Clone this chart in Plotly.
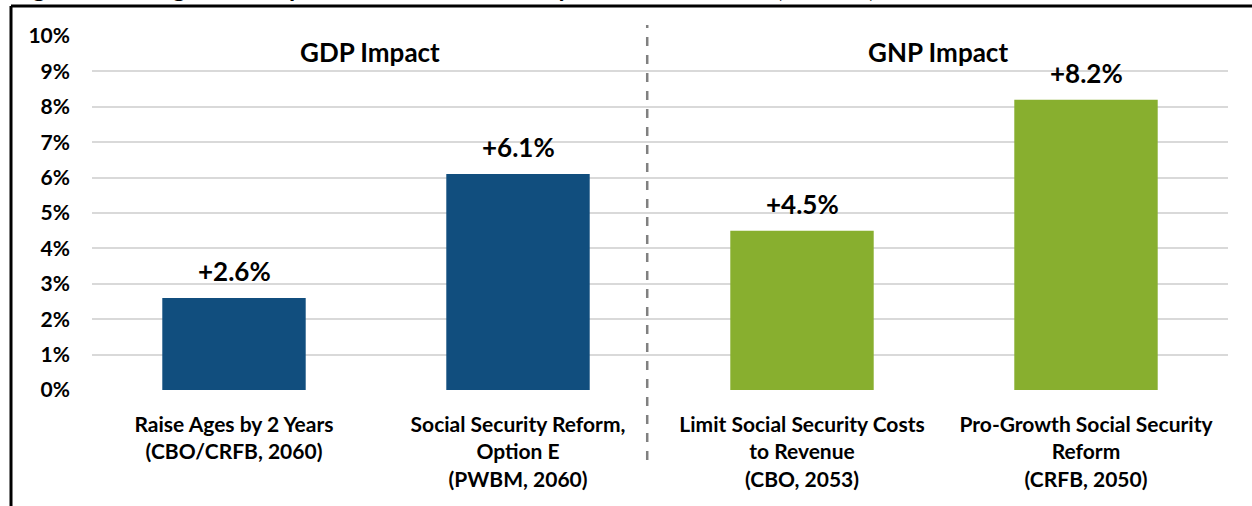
import plotly.graph_objects as go

categories = [
    "Raise Ages by 2 Years<br>(CBO/CRFB, 2060)",
    "Social Security Reform,<br>Option E<br>(PWBM, 2060)",
    "Limit Social Security Costs<br>to Revenue<br>(CBO, 2053)",
    "Pro-Growth Social Security<br>Reform<br>(CRFB, 2050)",
]
values = [2.6, 6.1, 4.5, 8.2]
value_labels = ["+2.6%", "+6.1%", "+4.5%", "+8.2%"]
bar_colors = ["#114E7E", "#114E7E", "#88AF2F", "#88AF2F"]
tick_vals = list(range(0, 11))
tick_text = [f"{v}%" for v in tick_vals]
group_labels = ["GDP Impact", "GNP Impact"]
title_text = "Figure 1: Changes to Output Under Social Security Reform Scenarios (Percent)"

FONT = "Lato, Carlito, Calibri, sans-serif"

x_idx = list(range(len(categories)))

fig = go.Figure()
fig.add_trace(go.Bar(
    x=x_idx, y=values, marker=dict(color=bar_colors, line=dict(width=0)),
    width=0.505, hoverinfo="skip",
))

for xi, v, lab in zip(x_idx, values, value_labels):
    fig.add_annotation(x=xi, y=v, text=f"<b>{lab}</b>", showarrow=False,
                       yanchor="bottom", yshift=9,
                       font=dict(family=FONT, size=26, color="#000000"))

# group headers
fig.add_annotation(x=0.5, y=9.6, text=f"<b>{group_labels[0]}</b>", showarrow=False,
                   xanchor="center", yanchor="middle", xshift=-6, yshift=-2,
                   font=dict(family=FONT, size=26, color="#000000"))
fig.add_annotation(x=2.5, y=9.6, text=f"<b>{group_labels[1]}</b>", showarrow=False,
                   xanchor="center", yanchor="middle", xshift=-6, yshift=-2,
                   font=dict(family=FONT, size=26, color="#000000"))

# title (mostly cut off at top, as in the reference)
fig.add_annotation(xref="paper", yref="paper", x=-0.072, y=1.0904,
                   text=f"<b>{title_text}</b>", showarrow=False,
                   xanchor="left", yanchor="bottom",
                   font=dict(family=FONT, size=25, color="#000000"))

shapes = [
    # dashed divider
    dict(type="line", xref="x", yref="paper", x0=1.455, x1=1.455, y0=-0.198, y1=1.031,
         line=dict(color="#808080", width=2.5, dash="dash")),
    # frame top
    dict(type="line", xref="paper", yref="paper", x0=-0.0713, x1=1.05, y0=1.0847, y1=1.0847,
         line=dict(color="#000000", width=3)),
    # frame left
    dict(type="line", xref="paper", yref="paper", x0=-0.0713, x1=-0.0713, y0=-0.35, y1=1.0847,
         line=dict(color="#000000", width=3)),
]

fig.update_layout(
    width=1252, height=506,
    margin=dict(l=92, r=24, t=36, b=116),
    paper_bgcolor="#ffffff", plot_bgcolor="#ffffff",
    showlegend=False, bargap=0.5,
    shapes=shapes,
    font=dict(family=FONT, color="#000000"),
    xaxis=dict(
        tickmode="array", tickvals=x_idx, ticktext=[f"<b>{c}</b>" for c in categories],
        range=[-0.5, 3.5], showgrid=False, zeroline=False, showline=False, ticks="",
        ticklabelstandoff=20,
        tickfont=dict(family=FONT, size=21, color="#000000"),
    ),
    yaxis=dict(
        range=[0, 10], tickmode="array", tickvals=tick_vals,
        ticktext=[f"<b>{t}</b>" for t in tick_text],
        showgrid=True, gridcolor="#D9D9D9", gridwidth=2, zeroline=False,
        showline=False, ticks="", ticklabelstandoff=21,
        tickfont=dict(family=FONT, size=21, color="#000000"),
    ),
)

fig.write_html("out.html")
